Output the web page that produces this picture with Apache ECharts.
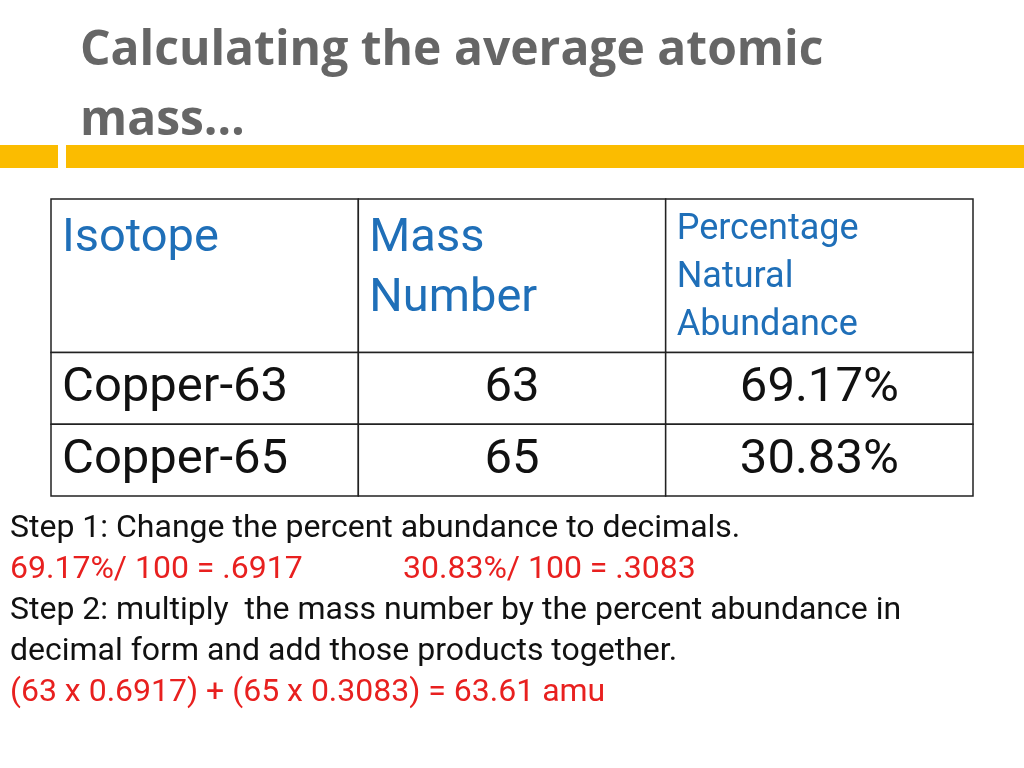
<!DOCTYPE html>
<html><head><meta charset="utf-8">
<script src="https://cdn.jsdelivr.net/npm/echarts@6/dist/echarts.min.js"></script>
<style>html,body{margin:0;padding:0;background:#fff}#c{width:1024px;height:768px}</style>
</head><body><div id="c"></div>
<script>
var titleLines = ['Calculating the average atomic', 'mass…'];
var headers = ['Isotope', 'Mass\nNumber', 'Percentage\nNatural\nAbundance'];
var isotopes = ['Copper-63', 'Copper-65'];
var massNumbers = ['63', '65'];
var abundances = ['69.17%', '30.83%'];
var rowSpans = [2.14, 1, 1];
var notes = [
  [{t:'Step 1: Change the percent abundance to decimals.', c:'#111'}],
  [{t:'69.17%/ 100 = .6917', c:'#e8201f'}, {t:'30.83%/ 100 = .3083', c:'#e8201f', x:403}],
  [{t:'Step 2: multiply  the mass number by the percent abundance in', c:'#111'}],
  [{t:'decimal form and add those products together.', c:'#111'}],
  [{t:'(63 x 0.6917) + (65 x 0.3083) = 63.61 amu', c:'#e8201f'}]
];

var rows = [headers];
for (var i = 0; i < isotopes.length; i++) rows.push([isotopes[i], massNumbers[i], abundances[i]]);
var cells = [], y0 = 0;
rows.forEach(function (r, ri) {
  r.forEach(function (txt, ci) { cells.push([ci, y0, ci + 1, y0 + rowSpans[ri], ri, txt]); });
  y0 += rowSpans[ri];
});
var total = y0;

var chart = echarts.init(document.getElementById('c'));
var graphics = [
  {type:'rect', shape:{x:0,y:145,width:58,height:23}, style:{fill:'#fbbc00'}},
  {type:'rect', shape:{x:66,y:145,width:958,height:23}, style:{fill:'#fbbc00'}}
];
titleLines.forEach(function (t, i) {
  graphics.push({type:'text', left:80, top:27 + i * 70, style:{text:t, fill:'#666', font:'bold 48px "Open Sans", sans-serif'}});
});
notes.forEach(function (line, i) {
  line.forEach(function (seg) {
    graphics.push({type:'text', left: seg.x || 10, top: 513 + i * 41, style:{text:seg.t, fill:seg.c, font:'32px Roboto, sans-serif'}});
  });
});

chart.setOption({
  animation:false,
  grid:{left:51, top:199, width:922, height:297},
  xAxis:{type:'value', min:0, max:3, show:false},
  yAxis:{type:'value', min:0, max:total, inverse:true, show:false},
  graphic: graphics,
  series:[{
    type:'custom',
    data: cells,
    renderItem: function (params, api) {
      var p1 = api.coord([api.value(0), api.value(1)]);
      var p2 = api.coord([api.value(2), api.value(3)]);
      var ri = api.value(4), ci = api.value(0);
      var txt = cells[params.dataIndex][5];
      var header = ri === 0;
      var font, color, tx, ty, align, lh;
      if (header) {
        color = '#1f6fb8';
        font = ci === 2 ? '36px Roboto, sans-serif' : '47px Roboto, sans-serif';
        lh = ci === 2 ? 48 : 60;
        tx = p1[0] + 11; ty = p1[1] + (ci === 2 ? 7 : 10); align = 'left';
      } else {
        color = '#111'; font = '49px Roboto, sans-serif'; lh = 56;
        align = ci === 0 ? 'left' : 'center';
        tx = ci === 0 ? p1[0] + 11 : (p1[0] + p2[0]) / 2;
        ty = p1[1] + 8;
      }
      return {type:'group', children:[
        {type:'rect', shape:{x:p1[0], y:p1[1], width:p2[0]-p1[0], height:p2[1]-p1[1]}, style:{fill:'#fff', stroke:'#222', lineWidth:1.5}},
        {type:'text', x:tx, y:ty, style:{text:txt, fill:color, font:font, align:align, verticalAlign:'top', lineHeight:lh}}
      ]};
    }
  }]
});
</script></body></html>
